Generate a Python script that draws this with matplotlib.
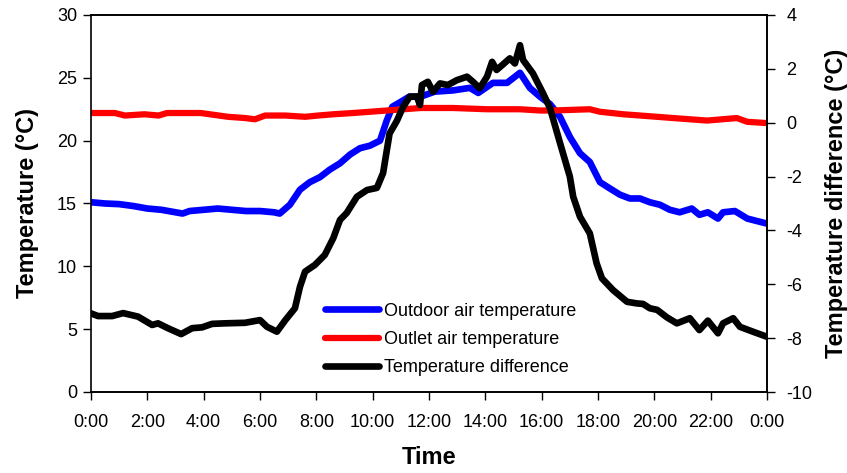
import matplotlib
matplotlib.use("Agg")
import matplotlib.pyplot as plt

plt.rcParams['font.family'] = ['Liberation Sans', 'DejaVu Sans']
plt.rcParams['axes.unicode_minus'] = False

# ---- data (hours of day, °C) ----
hours_outdoor = [0, 0.5, 1, 1.5, 2, 2.5, 3, 3.25, 3.5, 4, 4.5, 5, 5.5, 6, 6.5, 6.7, 7.06, 7.42,
                 7.77, 8.13, 8.48, 8.84, 9.2, 9.55, 9.9, 10.26, 10.5, 10.7, 11.08, 11.3, 11.7,
                 12.2, 12.85, 13.45, 13.75, 14.27, 14.77, 15.23, 15.58, 15.94, 16.3, 16.65,
                 17.0, 17.36, 17.71, 18.07, 18.42, 18.78, 19.13, 19.49, 19.84, 20.2, 20.55,
                 20.9, 21.33, 21.6, 21.9, 22.26, 22.44, 22.86, 23.3, 23.65, 24]
outdoor = [15.1, 15.0, 14.95, 14.8, 14.6, 14.5, 14.3, 14.2, 14.4, 14.5, 14.6, 14.5, 14.4, 14.4,
           14.3, 14.2, 14.9, 16.1, 16.7, 17.1, 17.7, 18.2, 18.9, 19.4, 19.6, 20.0, 21.6, 22.7,
           23.2, 23.5, 23.5, 23.9, 24.0, 24.2, 23.8, 24.6, 24.6, 25.4, 24.2, 23.5, 22.9, 21.9,
           20.3, 19.0, 18.3, 16.7, 16.2, 15.7, 15.4, 15.4, 15.1, 14.9, 14.5, 14.3, 14.6, 14.1,
           14.3, 13.8, 14.3, 14.4, 13.8, 13.6, 13.4]

hours_outlet = [0, 0.85, 1.2, 1.9, 2.4, 2.7, 3.9, 4.86, 5.47, 5.82, 6.18, 6.9, 7.6, 8.06, 8.6,
                9.3, 10.5, 11.7, 12.85, 14.06, 15.23, 15.94, 16.4, 17.71, 18.07, 18.9, 19.5,
                20.67, 21.87, 22.93, 23.3, 24]
outlet = [22.2, 22.2, 22.0, 22.1, 22.0, 22.2, 22.2, 21.9, 21.8, 21.7, 22.0, 22.0, 21.9, 22.0,
          22.1, 22.2, 22.4, 22.6, 22.6, 22.5, 22.5, 22.4, 22.4, 22.5, 22.3, 22.1, 22.0, 21.8,
          21.6, 21.8, 21.5, 21.4]

hours_diff = [0, 0.25, 0.75, 1.14, 1.67, 2.17, 2.38, 2.73, 3.2, 3.59, 3.94, 4.3, 4.76, 5.47,
              6.0, 6.25, 6.6, 6.9, 7.24, 7.42, 7.6, 7.95, 8.3, 8.6, 8.84, 9.08, 9.44, 9.8,
              10.15, 10.37, 10.6, 10.86, 11.08, 11.32, 11.57, 11.68, 11.75, 11.96, 12.14,
              12.39, 12.67, 12.99, 13.35, 13.56, 13.8, 14.06, 14.24, 14.4, 14.6, 14.87, 15.05,
              15.23, 15.34, 15.69, 16.05, 16.3, 16.65, 17.0, 17.12, 17.36, 17.71, 17.95,
              18.14, 18.53, 19.03, 19.38, 19.6, 19.84, 20.1, 20.45, 20.8, 21.26, 21.6, 21.9,
              22.26, 22.44, 22.8, 23.04, 23.5, 24]
diff = [-7.08, -7.18, -7.18, -7.07, -7.2, -7.51, -7.45, -7.63, -7.85, -7.63, -7.6, -7.47,
        -7.45, -7.43, -7.33, -7.58, -7.76, -7.33, -6.89, -6.09, -5.53, -5.28, -4.91, -4.29,
        -3.61, -3.35, -2.75, -2.5, -2.42, -1.87, -0.4, 0.07, 0.59, 0.97, 0.97, 0.66, 1.4,
        1.52, 1.15, 1.46, 1.4, 1.58, 1.71, 1.52, 1.28, 1.71, 2.26, 1.96, 2.14, 2.39, 2.2,
        2.88, 2.33, 1.83, 1.09, 0.53, -0.75, -2.0, -2.75, -3.49, -4.11, -5.22, -5.78,
        -6.21, -6.65, -6.71, -6.73, -6.89, -6.95, -7.23, -7.45, -7.26, -7.7, -7.35, -7.82,
        -7.45, -7.26, -7.58, -7.76, -7.95]

xtick_pos = list(range(0, 25, 2))
xtick_labels = ['0:00', '2:00', '4:00', '6:00', '8:00', '10:00', '12:00', '14:00', '16:00',
                '18:00', '20:00', '22:00', '0:00']

fig = plt.figure(figsize=(8.47, 4.73), dpi=100)
ax = fig.add_axes([91/847, 1-392/473, (767-91)/847, (392-15)/473])
ax2 = ax.twinx()

l1, = ax.plot(hours_outdoor, outdoor, color='#0000ff', lw=4.8, solid_capstyle='round',
              solid_joinstyle='round', label='Outdoor air temperature')
l2, = ax.plot(hours_outlet, outlet, color='#ff0000', lw=4.5, solid_capstyle='round',
              solid_joinstyle='round', label='Outlet air temperature')
l3, = ax2.plot(hours_diff, diff, color='black', lw=4.8, solid_capstyle='round',
               solid_joinstyle='round', label='Temperature difference')

ax.set_xlim(0, 24)
ax.set_ylim(0, 30)
ax2.set_ylim(-10, 4)
ax.set_yticks(range(0, 31, 5))
ax2.set_yticks(range(-10, 5, 2))
ax.set_xticks(xtick_pos)
ax.set_xticklabels(xtick_labels)

for a in (ax, ax2):
    a.tick_params(direction='out', length=6, width=1, labelsize=13, colors='black')
ax.tick_params(axis='x', pad=10)
ax.tick_params(axis='y', pad=4)
ax2.tick_params(axis='y', pad=8)

for a in (ax, ax2):
    for s in a.spines.values():
        s.set_linewidth(1.2)
ax.spines['left'].set_linestyle((0, (2, 1)))
ax2.spines['left'].set_visible(False)

ax.set_ylabel('Temperature (°C)', fontsize=17, fontweight='bold', labelpad=13)
ax2.set_ylabel('Temperature difference (°C)', fontsize=17, fontweight='bold', labelpad=9)
ax.set_xlabel('Time', fontsize=17, fontweight='bold', labelpad=11)

leg = ax.legend(handles=[l1, l2, l3], loc='upper left', bbox_to_anchor=(0.346, 0.237),
                frameon=False, fontsize=13, handlelength=3.0, handletextpad=0.3,
                labelspacing=0.62, borderaxespad=0, borderpad=0)

fig.savefig('out.png', dpi=100)
